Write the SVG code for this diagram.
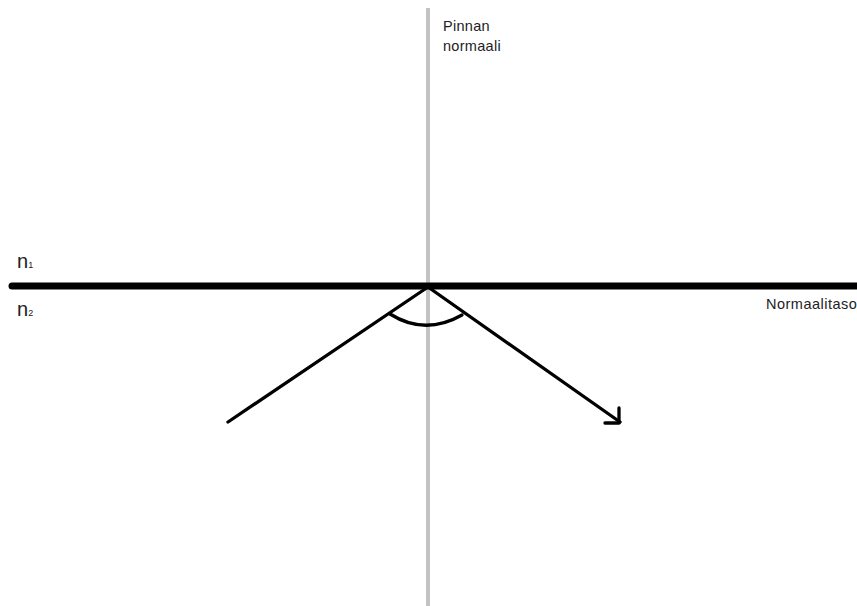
<svg xmlns="http://www.w3.org/2000/svg" width="857" height="606" viewBox="0 0 857 606">
<style>
.lbl{font-family:"Liberation Sans",Arial,sans-serif;fill:#222}
.ray{stroke:#000;stroke-width:3.3;fill:none;stroke-linecap:round;stroke-linejoin:round}
</style>
<rect width="857" height="606" fill="#fff"/>
<g id="normal">
<line x1="428" y1="8" x2="428" y2="606" stroke="#c3c3c3" stroke-width="4"/>
<text class="lbl" x="443" y="31" font-size="14.5" letter-spacing="0.3">Pinnan</text>
<text class="lbl" x="443" y="51" font-size="14.5" letter-spacing="0.3">normaali</text>
</g>
<g id="interface">
<line x1="12" y1="286" x2="857" y2="286" stroke="#000" stroke-width="7" stroke-linecap="round"/>
<text class="lbl" x="766" y="309" font-size="14.5" letter-spacing="0.5">Normaalitaso</text>
</g>
<g id="n1"><text class="lbl" x="17" y="268" font-size="20">n<tspan font-size="9">1</tspan></text></g>
<g id="n2"><text class="lbl" x="17" y="316" font-size="20">n<tspan font-size="9">2</tspan></text></g>
<g id="connectors">
<path class="ray" d="M228,422 L428,287 L620,422"/>
<path class="ray" d="M619,408 L619,423 L605,423"/>
<path class="ray" d="M390,314 Q425,336 462,315"/>
</g>
</svg>
